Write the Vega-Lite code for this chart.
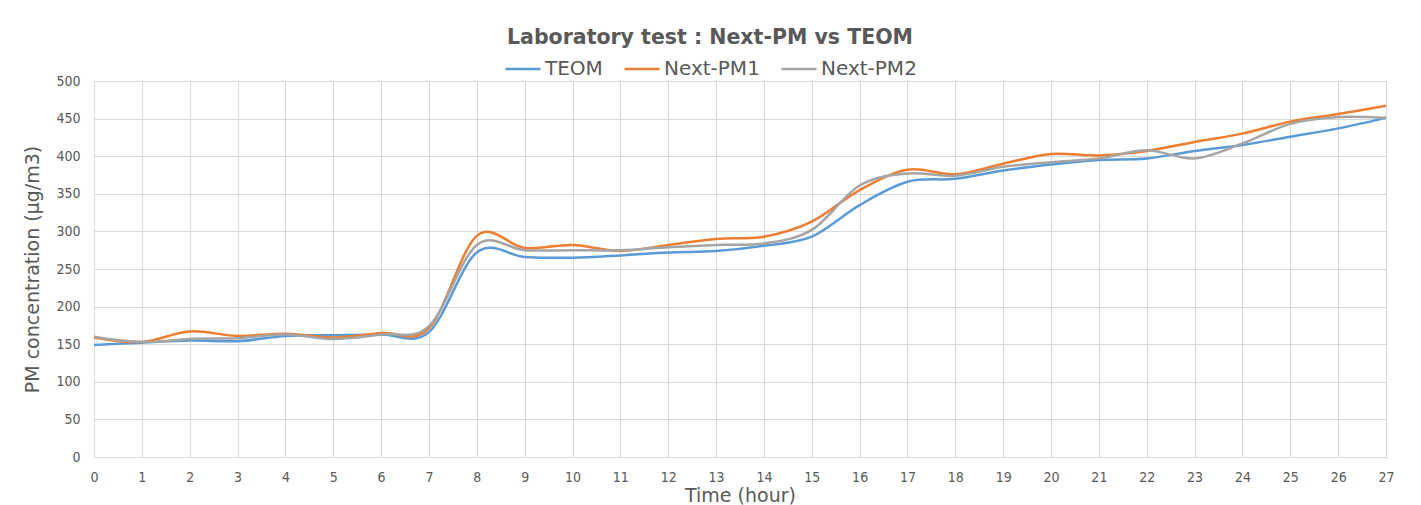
{
  "$schema": "https://vega.github.io/schema/vega-lite/v6.json",
  "width": 1292,
  "height": 376,
  "autosize": {"type": "none"},
  "padding": {"left": 94, "top": 81, "right": 35, "bottom": 48},
  "background": "white",
  "title": {
    "text": "Laboratory test : Next-PM vs TEOM",
    "font": "DejaVu Sans",
    "fontSize": 20.5,
    "fontWeight": "bold",
    "color": "#595959",
    "anchor": "middle",
    "dx": -30,
    "offset": 2
  },
  "data": {
    "values": [
      {"hour": 0, "TEOM": 149, "Next-PM1": 159, "Next-PM2": 160},
      {"hour": 1, "TEOM": 152, "Next-PM1": 153, "Next-PM2": 153},
      {"hour": 2, "TEOM": 155, "Next-PM1": 167, "Next-PM2": 157},
      {"hour": 3, "TEOM": 154, "Next-PM1": 161, "Next-PM2": 158},
      {"hour": 4, "TEOM": 161, "Next-PM1": 164, "Next-PM2": 163},
      {"hour": 5, "TEOM": 162, "Next-PM1": 159, "Next-PM2": 157},
      {"hour": 6, "TEOM": 163, "Next-PM1": 165, "Next-PM2": 163},
      {"hour": 7, "TEOM": 166, "Next-PM1": 171, "Next-PM2": 174},
      {"hour": 8, "TEOM": 272, "Next-PM1": 294, "Next-PM2": 282},
      {"hour": 9, "TEOM": 266, "Next-PM1": 278, "Next-PM2": 275},
      {"hour": 10, "TEOM": 265, "Next-PM1": 282, "Next-PM2": 275},
      {"hour": 11, "TEOM": 268, "Next-PM1": 274, "Next-PM2": 275},
      {"hour": 12, "TEOM": 272, "Next-PM1": 282, "Next-PM2": 279},
      {"hour": 13, "TEOM": 274, "Next-PM1": 290, "Next-PM2": 282},
      {"hour": 14, "TEOM": 281, "Next-PM1": 293, "Next-PM2": 284},
      {"hour": 15, "TEOM": 293, "Next-PM1": 313, "Next-PM2": 302},
      {"hour": 16, "TEOM": 335, "Next-PM1": 355, "Next-PM2": 361},
      {"hour": 17, "TEOM": 366, "Next-PM1": 382, "Next-PM2": 377},
      {"hour": 18, "TEOM": 370, "Next-PM1": 376, "Next-PM2": 374},
      {"hour": 19, "TEOM": 381, "Next-PM1": 390, "Next-PM2": 386},
      {"hour": 20, "TEOM": 389, "Next-PM1": 403, "Next-PM2": 392},
      {"hour": 21, "TEOM": 395, "Next-PM1": 401, "Next-PM2": 397},
      {"hour": 22, "TEOM": 397, "Next-PM1": 407, "Next-PM2": 408},
      {"hour": 23, "TEOM": 407, "Next-PM1": 419, "Next-PM2": 397},
      {"hour": 24, "TEOM": 415, "Next-PM1": 430, "Next-PM2": 417},
      {"hour": 25, "TEOM": 426, "Next-PM1": 446, "Next-PM2": 443},
      {"hour": 26, "TEOM": 437, "Next-PM1": 456, "Next-PM2": 452},
      {"hour": 27, "TEOM": 451, "Next-PM1": 467, "Next-PM2": 451}
    ]
  },
  "transform": [{"fold": ["TEOM", "Next-PM1", "Next-PM2"], "as": ["series", "pm"]}],
  "mark": {"type": "line", "interpolate": "cardinal", "strokeWidth": 2.5},
  "encoding": {
    "x": {
      "field": "hour",
      "type": "quantitative",
      "scale": {"domain": [0, 27], "nice": false, "zero": true},
      "axis": {
        "title": "Time (hour)",
        "values": [0,1,2,3,4,5,6,7,8,9,10,11,12,13,14,15,16,17,18,19,20,21,22,23,24,25,26,27],
        "format": "d",
        "labelFlush": false,
        "ticks": false,
        "labelPadding": 13,
        "titlePadding": 2,
        "domainColor": "#D9D9D9"
      }
    },
    "y": {
      "field": "pm",
      "type": "quantitative",
      "scale": {"domain": [0, 500], "nice": false},
      "axis": {
        "title": "PM concentration (µg/m3)",
        "values": [0,50,100,150,200,250,300,350,400,450,500],
        "ticks": false,
        "domain": false,
        "labelPadding": 14,
        "titlePadding": 13
      }
    },
    "color": {
      "field": "series",
      "type": "nominal",
      "scale": {"domain": ["TEOM", "Next-PM1", "Next-PM2"], "range": ["#5B9BD5", "#ED7D31", "#A5A5A5"]},
      "legend": {
        "title": null,
        "orient": "none",
        "legendX": 410,
        "legendY": -31,
        "direction": "horizontal",
        "symbolType": "stroke",
        "symbolSize": 1225,
        "symbolStrokeWidth": 2.5,
        "labelFontSize": 20,
        "labelColor": "#595959",
        "labelFont": "DejaVu Sans",
        "columnPadding": 16,
        "labelOffset": 3
      }
    }
  },
  "config": {
    "view": {"stroke": "#D9D9D9"},
    "axis": {
      "gridColor": "#D9D9D9",
      "gridWidth": 1,
      "labelFont": "DejaVu Sans Condensed",
      "labelFontSize": 14,
      "labelColor": "#595959",
      "titleFont": "DejaVu Sans",
      "titleFontSize": 19,
      "titleFontWeight": "normal",
      "titleColor": "#595959"
    }
  }
}
